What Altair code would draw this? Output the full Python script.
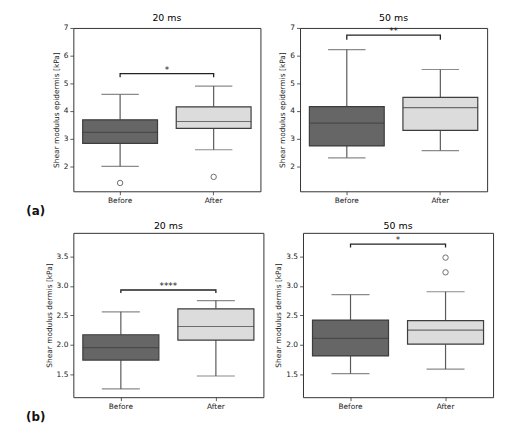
import pandas as pd
import altair as alt

groups = ["Before", "After"]
box_colors = ["#666666", "#dcdcdc"]

# (a) shear modulus epidermis, 20 ms
epi20_low = [2.0, 2.6]
epi20_q1 = [2.83, 3.37]
epi20_med = [3.23, 3.62]
epi20_q3 = [3.68, 4.15]
epi20_high = [4.6, 4.9]
epi20_out_group = ["Before", "After"]
epi20_out = [1.4, 1.62]
epi20_sig = [5.35, 5.22]

# (a) shear modulus epidermis, 50 ms
epi50_low = [2.31, 2.57]
epi50_q1 = [2.74, 3.3]
epi50_med = [3.56, 4.12]
epi50_q3 = [4.16, 4.49]
epi50_high = [6.22, 5.5]
epi50_out_group = []
epi50_out = []
epi50_sig = [6.74, 6.57]

# (b) shear modulus dermis, 20 ms
der20_low = [1.25, 1.47]
der20_q1 = [1.74, 2.08]
der20_med = [1.95, 2.31]
der20_q3 = [2.17, 2.61]
der20_high = [2.56, 2.75]
der20_out_group = []
der20_out = []
der20_sig = [2.93, 2.88]

# (b) shear modulus dermis, 50 ms
der50_low = [1.51, 1.585]
der50_q1 = [1.81, 2.01]
der50_med = [2.11, 2.25]
der50_q3 = [2.42, 2.41]
der50_high = [2.85, 2.9]
der50_out_group = ["After", "After"]
der50_out = [3.48, 3.23]
der50_sig = [3.71, 3.65]

epi_ticks = [2, 3, 4, 5, 6, 7]
der_ticks = [1.5, 2.0, 2.5, 3.0, 3.5]

FONT = "DejaVu Sans"
LINE = "#5a5a5a"


def panel(low, q1, med, q3, high, out_group, out_vals, sig, stars, title,
          ytitle, ydomain, yticks, fmt, w, h, tag=None):
    df = pd.DataFrame({"group": groups, "low": low, "q1": q1, "med": med,
                       "q3": q3, "high": high})
    x = alt.X("group:N", sort=groups,
              scale=alt.Scale(type="band", domain=groups, paddingInner=0.2, paddingOuter=0.1),
              axis=alt.Axis(title=None, labelAngle=0))
    yscale = alt.Scale(domain=ydomain, nice=False, zero=False)
    yaxis = alt.Axis(title=ytitle, values=yticks, format=fmt)

    def Y(field):
        return alt.Y(field, scale=yscale, axis=yaxis)

    base = alt.Chart(df)
    whisk_lo = base.mark_rule(color=LINE, strokeWidth=1.2).encode(
        x=x, y=Y("low:Q"), y2="q1:Q")
    whisk_hi = base.mark_rule(color=LINE, strokeWidth=1.2).encode(
        x=x, y=Y("q3:Q"), y2="high:Q")
    cap_lo = base.mark_tick(color=LINE, size=0.2 * w, thickness=1.2, orient="horizontal").encode(
        x=x, y=Y("low:Q"))
    cap_hi = base.mark_tick(color=LINE, size=0.2 * w, thickness=1.2, orient="horizontal").encode(
        x=x, y=Y("high:Q"))
    box = base.mark_bar(stroke="#3d3d3d", strokeWidth=1.2).encode(
        x=x, y=Y("q1:Q"), y2="q3:Q",
        color=alt.Color("group:N", scale=alt.Scale(domain=groups, range=box_colors), legend=None))
    median = base.mark_tick(color="#3d3d3d", size=0.4 * w, thickness=1.2, orient="horizontal").encode(
        x=x, y=Y("med:Q"))

    layers = [whisk_lo, whisk_hi, cap_lo, cap_hi, box, median]

    if out_vals:
        df_out = pd.DataFrame({"group": out_group, "v": out_vals})
        layers.append(alt.Chart(df_out).mark_point(
            shape="circle", filled=False, color="#333333", size=30, strokeWidth=1).encode(
            x=x, y=Y("v:Q")))

    # significance bracket
    df_sig = pd.DataFrame({"group": ["Before", "Before", "After", "After"],
                           "v": [sig[1], sig[0], sig[0], sig[1]],
                           "k": [0, 1, 2, 3]})
    layers.append(alt.Chart(df_sig).mark_line(color="#222222", strokeWidth=1.3).encode(
        x=x, y=Y("v:Q"), order="k:Q"))
    layers.append(alt.Chart(pd.DataFrame({"v": [sig[0]], "s": [stars]})).mark_text(
        font=FONT, fontSize=9, baseline="bottom", dy=1, color="#222222").encode(
        x=alt.value(w / 2), y=Y("v:Q"), text="s:N"))

    if tag:
        layers.append(alt.Chart(pd.DataFrame({"t": [tag]})).mark_text(
            font=FONT, fontSize=12, fontWeight="bold", align="center", baseline="middle",
            color="#111111").encode(
            x=alt.value(-38), y=alt.value(h + 20), text="t:N"))

    return alt.layer(*layers).properties(
        width=w, height=h,
        title=alt.TitleParams(title, fontSize=9.5, font=FONT, fontWeight="normal", offset=2))


a1 = panel(epi20_low, epi20_q1, epi20_med, epi20_q3, epi20_high, epi20_out_group, epi20_out,
           epi20_sig, "*", "20 ms", "Shear modulus epidermis [kPa]", [1.1, 7], epi_ticks, "d",
           189, 165, "(a)")
a2 = panel(epi50_low, epi50_q1, epi50_med, epi50_q3, epi50_high, epi50_out_group, epi50_out,
           epi50_sig, "**", "50 ms", "Shear modulus epidermis [kPa]", [1.1, 7], epi_ticks, "d",
           189, 165)
b1 = panel(der20_low, der20_q1, der20_med, der20_q3, der20_high, der20_out_group, der20_out,
           der20_sig, "****", "20 ms", "Shear modulus dermis [kPa]", [1.11, 3.9], der_ticks, ".1f",
           192, 166, "(b)")
b2 = panel(der50_low, der50_q1, der50_med, der50_q3, der50_high, der50_out_group, der50_out,
           der50_sig, "*", "50 ms", "Shear modulus dermis [kPa]", [1.11, 3.9], der_ticks, ".1f",
           192, 166)

chart = alt.vconcat(
    alt.hconcat(a1, a2, spacing=17),
    alt.hconcat(b1, b2, spacing=10),
    spacing=3,
).properties(
    padding={"left": 17, "top": 2, "right": 5, "bottom": 5}
).configure(
    font=FONT, background="white"
).configure_view(
    stroke="#333333", strokeWidth=1
).configure_axis(
    grid=False, domain=False, tickColor="#333333", tickSize=3.5, tickWidth=0.8,
    labelFont=FONT, labelFontSize=7.5, labelColor="#222222", labelPadding=2,
    titleFont=FONT, titleFontSize=7.5, titleFontWeight="normal", titleColor="#222222",
    titlePadding=3
)

chart.save("out.html", embed_options={"renderer": "svg", "actions": False})
